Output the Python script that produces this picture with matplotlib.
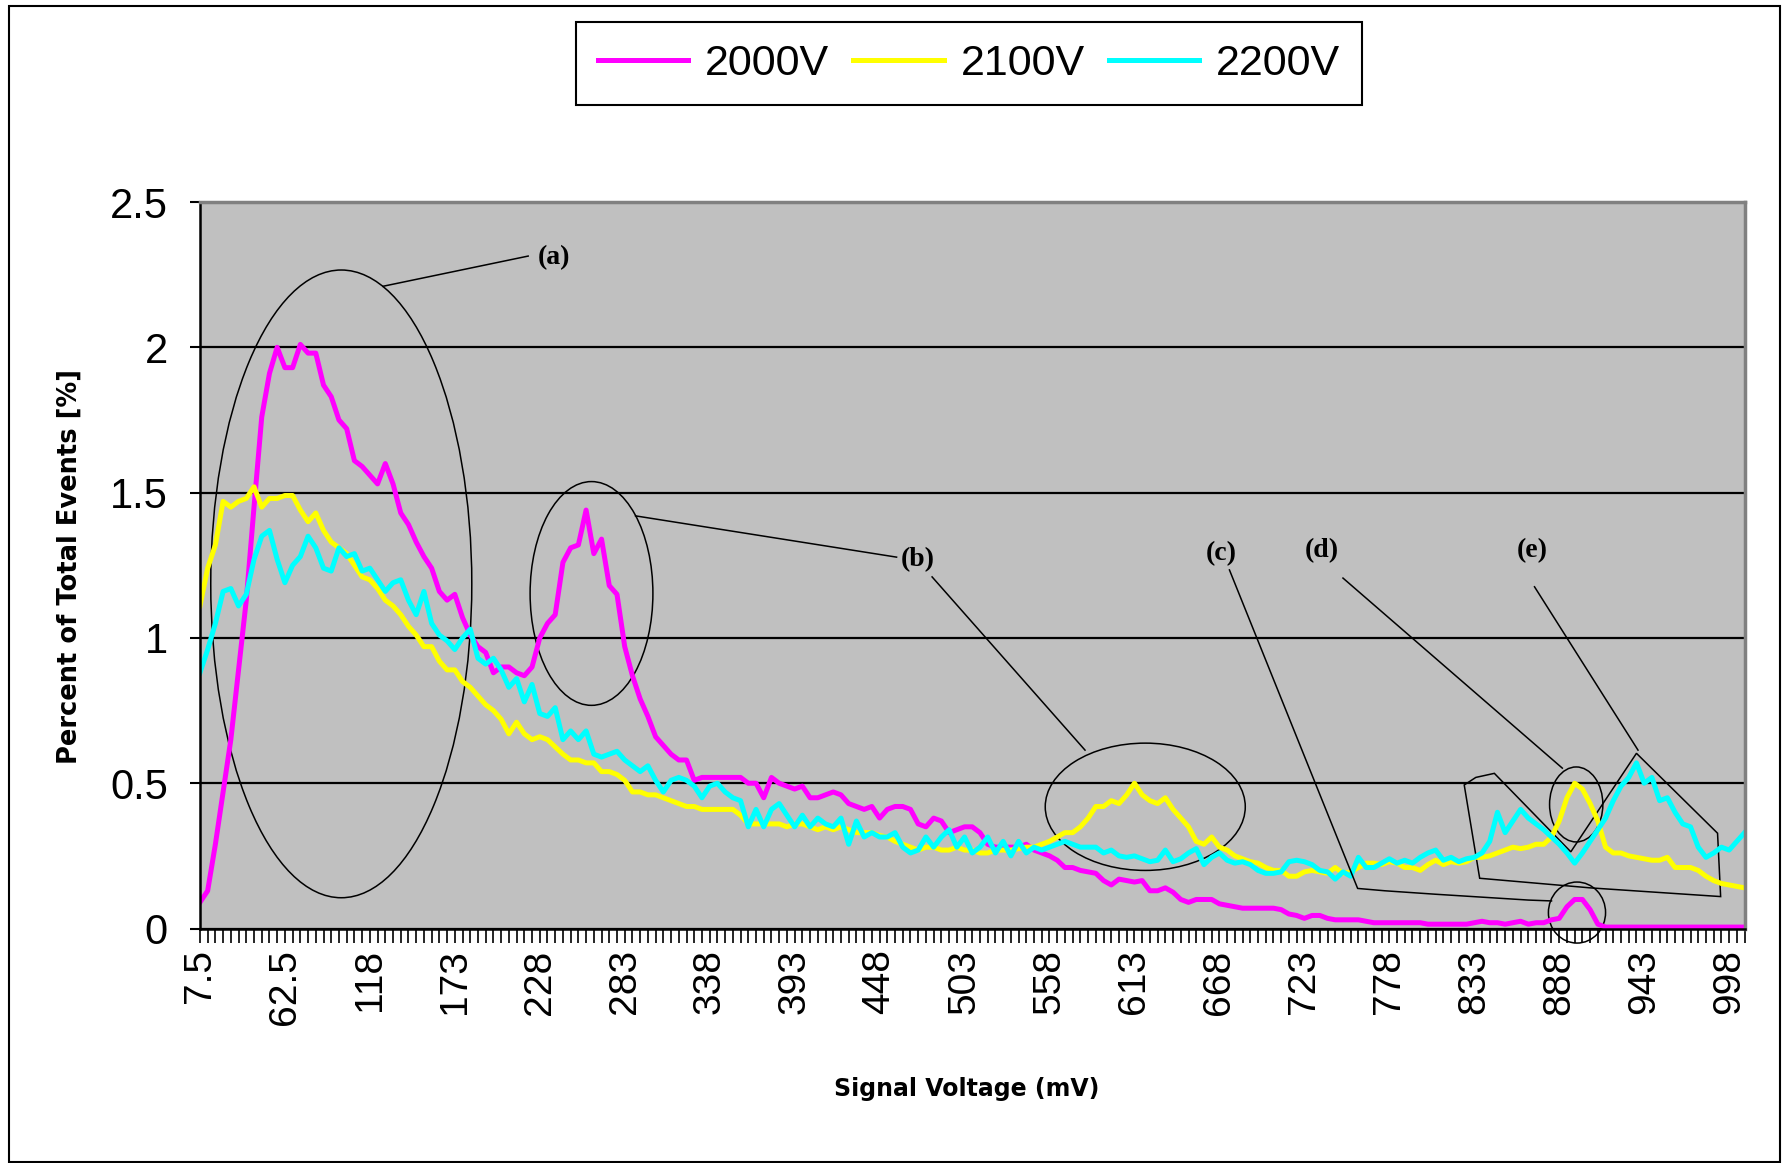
import numpy as np
from matplotlib import pyplot as plt
from matplotlib.patches import Ellipse, Polygon, Rectangle
import matplotlib

matplotlib.rcParams["font.family"] = ["Liberation Sans", "DejaVu Sans"]

# categories: signal voltage bins (mV), 7.5 .. 1007.5 step 5
signal_mv = np.arange(7.5, 1008, 5.0)
tick_mv = signal_mv[::11]
tick_labels = ["7.5", "62.5", "118", "173", "228", "283", "338", "393", "448",
               "503", "558", "613", "668", "723", "778", "833", "888", "943", "998"]

series_names = ["2000V", "2100V", "2200V"]

pct_2000v = [
    0.09, 0.13, 0.29, 0.47, 0.65, 0.89, 1.13, 1.45, 1.76, 1.91,
    2.00, 1.93, 1.93, 2.01, 1.98, 1.98, 1.87, 1.83, 1.75, 1.72,
    1.61, 1.59, 1.56, 1.53, 1.60, 1.53, 1.43, 1.39, 1.33, 1.28,
    1.24, 1.16, 1.13, 1.15, 1.07, 1.01, 0.97, 0.95, 0.88, 0.90,
    0.90, 0.88, 0.87, 0.90, 1.00, 1.05, 1.08, 1.26, 1.31, 1.32,
    1.44, 1.29, 1.34, 1.18, 1.15, 0.97, 0.87, 0.79, 0.73, 0.66,
    0.63, 0.60, 0.58, 0.58, 0.51, 0.52, 0.52, 0.52, 0.52, 0.52,
    0.52, 0.50, 0.50, 0.45, 0.52, 0.50, 0.49, 0.48, 0.49, 0.45,
    0.45, 0.46, 0.47, 0.46, 0.43, 0.42, 0.41, 0.42, 0.38, 0.41,
    0.42, 0.42, 0.41, 0.36, 0.35, 0.38, 0.37, 0.33, 0.34, 0.35,
    0.35, 0.33, 0.29, 0.28, 0.28, 0.28, 0.28, 0.29, 0.27, 0.26,
    0.25, 0.235, 0.21, 0.21, 0.20, 0.195, 0.19, 0.165, 0.15, 0.17,
    0.165, 0.16, 0.165, 0.13, 0.13, 0.14, 0.125, 0.10, 0.09, 0.10,
    0.10, 0.10, 0.085, 0.08, 0.075, 0.07, 0.07, 0.07, 0.07, 0.07,
    0.065, 0.05, 0.045, 0.035, 0.045, 0.045, 0.035, 0.03, 0.03, 0.03,
    0.03, 0.025, 0.02, 0.02, 0.02, 0.02, 0.02, 0.02, 0.02, 0.015,
    0.015, 0.015, 0.015, 0.015, 0.015, 0.02, 0.025, 0.02, 0.02, 0.015,
    0.02, 0.025, 0.015, 0.02, 0.02, 0.03, 0.035, 0.075, 0.10, 0.10,
    0.065, 0.015, 0.005, 0.005, 0.005, 0.005, 0.005, 0.005, 0.005, 0.005,
    0.005, 0.005, 0.005, 0.005, 0.005, 0.005, 0.005, 0.005, 0.005, 0.005,
    0.005,
]

pct_2100v = [
    1.11, 1.24, 1.32, 1.47, 1.45, 1.47, 1.48, 1.52, 1.45, 1.48,
    1.48, 1.49, 1.49, 1.44, 1.40, 1.43, 1.37, 1.33, 1.31, 1.29,
    1.25, 1.21, 1.20, 1.17, 1.13, 1.11, 1.08, 1.04, 1.01, 0.97,
    0.97, 0.92, 0.89, 0.89, 0.85, 0.83, 0.80, 0.77, 0.75, 0.72,
    0.67, 0.71, 0.67, 0.65, 0.66, 0.65, 0.625, 0.60, 0.58, 0.58,
    0.57, 0.57, 0.54, 0.54, 0.53, 0.51, 0.47, 0.47, 0.46, 0.46,
    0.45, 0.44, 0.43, 0.42, 0.42, 0.41, 0.41, 0.41, 0.41, 0.41,
    0.39, 0.36, 0.36, 0.36, 0.36, 0.36, 0.35, 0.36, 0.36, 0.35,
    0.34, 0.35, 0.34, 0.35, 0.34, 0.33, 0.33, 0.33, 0.32, 0.315,
    0.30, 0.29, 0.28, 0.27, 0.28, 0.28, 0.27, 0.27, 0.28, 0.27,
    0.27, 0.26, 0.26, 0.27, 0.27, 0.27, 0.275, 0.28, 0.28, 0.29,
    0.30, 0.315, 0.33, 0.33, 0.35, 0.38, 0.42, 0.42, 0.44, 0.43,
    0.46, 0.50, 0.46, 0.44, 0.43, 0.45, 0.41, 0.38, 0.35, 0.30,
    0.29, 0.315, 0.28, 0.27, 0.25, 0.24, 0.23, 0.225, 0.21, 0.20,
    0.20, 0.18, 0.18, 0.195, 0.20, 0.195, 0.19, 0.21, 0.19, 0.195,
    0.21, 0.225, 0.225, 0.22, 0.23, 0.225, 0.21, 0.21, 0.20, 0.22,
    0.235, 0.22, 0.23, 0.225, 0.23, 0.245, 0.245, 0.25, 0.26, 0.27,
    0.28, 0.275, 0.28, 0.29, 0.29, 0.315, 0.37, 0.45, 0.50, 0.48,
    0.43, 0.37, 0.28, 0.26, 0.26, 0.25, 0.245, 0.24, 0.235, 0.235,
    0.245, 0.21, 0.21, 0.21, 0.20, 0.18, 0.165, 0.155, 0.15, 0.145,
    0.14,
]

pct_2200v = [
    0.88, 0.96, 1.05, 1.16, 1.17, 1.11, 1.15, 1.27, 1.35, 1.37,
    1.27, 1.19, 1.25, 1.28, 1.35, 1.31, 1.24, 1.23, 1.31, 1.28,
    1.29, 1.23, 1.24, 1.20, 1.16, 1.19, 1.20, 1.13, 1.08, 1.16,
    1.05, 1.01, 0.99, 0.96, 1.00, 1.03, 0.93, 0.91, 0.93, 0.89,
    0.83, 0.86, 0.78, 0.84, 0.74, 0.73, 0.76, 0.65, 0.68, 0.65,
    0.68, 0.60, 0.59, 0.60, 0.61, 0.58, 0.56, 0.54, 0.56, 0.51,
    0.47, 0.51, 0.52, 0.51, 0.49, 0.45, 0.49, 0.50, 0.47, 0.45,
    0.44, 0.35, 0.41, 0.35, 0.41, 0.43, 0.39, 0.35, 0.39, 0.35,
    0.38, 0.36, 0.35, 0.38, 0.29, 0.37, 0.315, 0.33, 0.315, 0.315,
    0.33, 0.28, 0.26, 0.27, 0.315, 0.28, 0.315, 0.34, 0.28, 0.315,
    0.26, 0.28, 0.315, 0.26, 0.30, 0.25, 0.30, 0.26, 0.28, 0.27,
    0.28, 0.29, 0.30, 0.29, 0.28, 0.28, 0.28, 0.26, 0.27, 0.25,
    0.245, 0.25, 0.24, 0.23, 0.235, 0.27, 0.23, 0.24, 0.26, 0.275,
    0.22, 0.245, 0.26, 0.235, 0.225, 0.23, 0.22, 0.20, 0.19, 0.19,
    0.195, 0.23, 0.235, 0.23, 0.22, 0.20, 0.195, 0.17, 0.195, 0.18,
    0.245, 0.21, 0.21, 0.225, 0.24, 0.225, 0.235, 0.225, 0.245, 0.26,
    0.27, 0.235, 0.245, 0.23, 0.24, 0.245, 0.26, 0.30, 0.40, 0.33,
    0.37, 0.41, 0.38, 0.36, 0.34, 0.315, 0.29, 0.26, 0.225, 0.26,
    0.30, 0.34, 0.38, 0.44, 0.49, 0.52, 0.57, 0.50, 0.52, 0.44,
    0.45, 0.40, 0.36, 0.35, 0.28, 0.245, 0.26, 0.28, 0.27, 0.30,
    0.33,
]

color_list = ["#ff00ff", "#ffff00", "#00ffff"]

assert len(pct_2000v) == len(pct_2100v) == len(pct_2200v) == len(signal_mv)

fig = plt.figure(figsize=(17.82, 11.63), dpi=100)
ax = fig.add_axes([0.1122, 0.2016, 0.8668, 0.6247])
ax.set_facecolor("#c0c0c0")

for name, vals, col in zip(series_names, [pct_2000v, pct_2100v, pct_2200v], color_list):
    ax.plot(signal_mv, vals, color=col, lw=3.6, label=name)

ax.set_xlim(7.5, 1007.5)
ax.set_ylim(0, 2.5)
ax.set_yticks([0, 0.5, 1, 1.5, 2, 2.5])
ax.set_yticklabels(["0", "0.5", "1", "1.5", "2", "2.5"], fontsize=30)
ax.set_xticks(tick_mv)
ax.set_xticklabels(tick_labels, rotation=90, fontsize=28)
ax.set_xticks(signal_mv, minor=True)
ax.tick_params(axis="x", which="both", direction="out", length=10, width=1.2, pad=5)
ax.tick_params(axis="y", direction="out", length=7, width=1.5, pad=16)
ax.yaxis.grid(True, color="black", lw=1.6)
ax.set_axisbelow(True)

ax.spines["top"].set_color("#808080")
ax.spines["right"].set_color("#808080")
ax.spines["top"].set_linewidth(2.5)
ax.spines["right"].set_linewidth(2.5)
ax.spines["left"].set_linewidth(1.8)
ax.spines["bottom"].set_linewidth(1.8)

# annotations
ann = dict(color="black", lw=1.1)
txt = dict(family=["Liberation Serif", "DejaVu Serif"], fontsize=20, fontweight="bold",
           ha="center", va="center")

ax.add_patch(Ellipse((99, 1.186), 169, 2.16, fill=False, ec="black", lw=1.1))
ax.plot([126, 220], [2.21, 2.314], **ann)
ax.text(237, 2.31, "(a)", **txt)

ax.add_patch(Ellipse((261, 1.153), 79.5, 0.77, fill=False, ec="black", lw=1.1))
ax.plot([289.5, 458.5], [1.42, 1.278], **ann)
ax.text(472, 1.27, "(b)", **txt)
ax.plot([481.5, 580.5], [1.21, 0.614], **ann)
ax.add_patch(Ellipse((619.5, 0.419), 129.5, 0.438, fill=False, ec="black", lw=1.1))

ax.text(669, 1.29, "(c)", **txt)
ax.plot([674, 757, 774.5, 807.5, 837.5, 867.5, 882.5],
        [1.234, 0.138, 0.13, 0.118, 0.108, 0.098, 0.095], **ann)
ax.add_patch(Ellipse((899, 0.055), 37, 0.21, fill=False, ec="black", lw=1.1, clip_on=False))

ax.text(734, 1.30, "(d)", **txt)
ax.plot([747.5, 889.5], [1.206, 0.552], **ann)
ax.add_patch(Ellipse((898.5, 0.427), 34.5, 0.258, fill=False, ec="black", lw=1.1))

ax.text(870, 1.30, "(e)", **txt)
ax.plot([871.5, 938.5], [1.176, 0.614], **ann)
poly_pts = [(826, 0.494), (833.5, 0.52), (845.5, 0.534), (895, 0.264), (937.5, 0.603),
            (990, 0.328), (992, 0.11), (907.5, 0.14), (836, 0.173)]
ax.add_patch(Polygon(poly_pts, closed=True, fill=False, ec="black", lw=1.1))

fig.text(0.039, 0.5125, "Percent of Total Events [%]", rotation=90, ha="center", va="center",
         fontsize=18.5, fontweight="bold", family=["DejaVu Sans"])
fig.text(0.5427, 0.0636, "Signal Voltage (mV)", ha="center", va="center",
         fontsize=17, fontweight="bold", family=["DejaVu Sans"])

leg = fig.legend(loc="center", bbox_to_anchor=(0.5438, 0.945), ncol=3,
                 prop={"family": ["Liberation Sans"], "size": 31},
                 frameon=True, fancybox=False, edgecolor="black", framealpha=1,
                 handlelength=2.1, handletextpad=0.4, columnspacing=0.55, borderpad=0.5)
leg.get_frame().set_linewidth(1.5)

fig.add_artist(Rectangle((0.005, 0.001), 0.9938, 0.994, transform=fig.transFigure,
                         fill=False, ec="black", lw=1.5))

fig.savefig("out.png", dpi=100)
